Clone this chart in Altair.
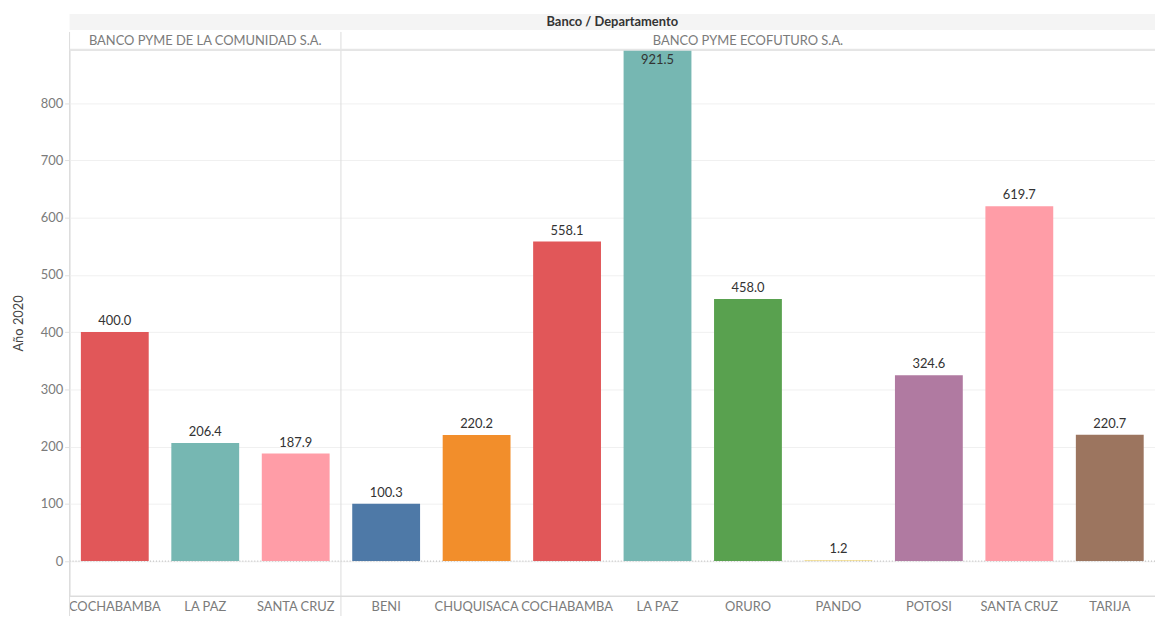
import altair as alt
import pandas as pd

# ---- data ----
banks = ["BANCO PYME DE LA COMUNIDAD S.A."] * 3 + ["BANCO PYME ECOFUTURO S.A."] * 9
depts = ["COCHABAMBA", "LA PAZ", "SANTA CRUZ",
         "BENI", "CHUQUISACA", "COCHABAMBA", "LA PAZ", "ORURO", "PANDO", "POTOSI", "SANTA CRUZ", "TARIJA"]
values = [400.0, 206.4, 187.9,
          100.3, 220.2, 558.1, 921.5, 458.0, 1.2, 324.6, 619.7, 220.7]
dept_names = ["COCHABAMBA", "LA PAZ", "SANTA CRUZ", "BENI", "CHUQUISACA", "ORURO", "PANDO", "POTOSI", "TARIJA"]
dept_colors = ["#e15759", "#76b7b2", "#ff9da7", "#4e79a7", "#f28e2b", "#59a14f", "#edc948", "#b07aa1", "#9c755f"]
bank_names = ["BANCO PYME DE LA COMUNIDAD S.A.", "BANCO PYME ECOFUTURO S.A."]
y_ticks = [0, 100, 200, 300, 400, 500, 600, 700, 800]
Y_MIN, Y_MAX = -61, 893

df = pd.DataFrame({"banco": banks, "depto": depts, "valor": values})
df["key"] = df["banco"] + "|" + df["depto"]
keys = list(df["key"])

W, H = 1093, 550
step = W / len(keys)
FONT = "Lato"
deco = pd.DataFrame({"a": [0]})

x_enc = alt.X(
    "key:N", sort=keys,
    scale=alt.Scale(paddingInner=0.25, paddingOuter=0.125),
    axis=alt.Axis(title=None, labelExpr="split(datum.label, '|')[1]", labelAngle=0,
                  domain=False, ticks=False, labelColor="#7b7b7b", labelFontSize=13,
                  labelFont=FONT, labelPadding=5, labelOverlap=False),
)


def y_enc(field):
    return alt.Y(
        field,
        scale=alt.Scale(domain=[Y_MIN, Y_MAX], nice=False, zero=False),
        axis=alt.Axis(title="Año 2020", values=y_ticks, grid=True, gridColor="#f0f0f0",
                      domain=False, tickColor="#e0e0e0", tickSize=5, labelPadding=2,
                      labelColor="#7b7b7b", labelFontSize=13, labelFont=FONT,
                      titleColor="#444444", titleFontSize=13, titleFont=FONT,
                      titleFontWeight="normal", titlePadding=15),
    )


color_enc = alt.Color("depto:N", scale=alt.Scale(domain=dept_names, range=dept_colors), legend=None)

gray_band = alt.Chart(deco).mark_rect(color="#f4f4f4").encode(
    x=alt.value(0), x2=alt.value(W), y=alt.value(-36), y2=alt.value(-20))

title_txt = alt.Chart(deco).mark_text(
    text="Banco / Departamento", font=FONT, fontSize=13, fontWeight="bold", color="#333333",
    baseline="middle").encode(x=alt.value(W / 2), y=alt.value(-28))

bank1 = alt.Chart(deco).mark_text(
    text=bank_names[0], font=FONT, fontSize=13, color="#7b7b7b", baseline="middle"
).encode(x=alt.value(1.5 * step), y=alt.value(-9))
bank2 = alt.Chart(deco).mark_text(
    text=bank_names[1], font=FONT, fontSize=13, color="#7b7b7b", baseline="middle"
).encode(x=alt.value(7.5 * step), y=alt.value(-9))

zero_line = alt.Chart(deco).mark_rule(color="#b5b5b5", strokeDash=[1, 2]).encode(
    y=alt.datum(0))

bars = alt.Chart(df).mark_bar(clip=True).encode(
    x=x_enc, y=y_enc("valor:Q"), y2=alt.datum(0), color=color_enc)

labels = alt.Chart(df).transform_filter(f"datum.valor <= {Y_MAX}").mark_text(
    baseline="bottom", dy=-4, font=FONT, fontSize=13, color="#333333"
).encode(x=x_enc, y=y_enc("valor:Q"), text=alt.Text("valor:Q", format=".1f"))

labels_clip = alt.Chart(df).transform_filter(f"datum.valor > {Y_MAX}").transform_calculate(
    yl=f"{Y_MAX}").mark_text(
    baseline="top", dy=4, font=FONT, fontSize=13, color="#333333"
).encode(x=x_enc, y=y_enc("yl:Q"), text=alt.Text("valor:Q", format=".1f"))

vline0 = alt.Chart(deco).mark_rule(color="#dcdcdc").encode(
    x=alt.value(0), y=alt.value(-18), y2=alt.value(H + 30))
vline1 = alt.Chart(deco).mark_rule(color="#dcdcdc").encode(
    x=alt.value(3 * step), y=alt.value(-18), y2=alt.value(H + 30))
top_line = alt.Chart(deco).mark_rule(color="#e6e6e6", strokeWidth=2).encode(
    x=alt.value(0), x2=alt.value(W), y=alt.value(0))
bot_line = alt.Chart(deco).mark_rule(color="#dcdcdc").encode(
    x=alt.value(0), x2=alt.value(W), y=alt.value(H))

chart = alt.layer(
    gray_band, title_txt, bank1, bank2, zero_line, bars, labels, labels_clip,
    vline0, vline1, top_line, bot_line
).properties(
    width=W, height=H,
    autosize=alt.AutoSizeParams(type="none"),
    padding={"left": 62, "top": 40, "right": 0, "bottom": 18},
).configure_view(stroke=None).configure(font=FONT)

chart.save("out.html", embed_options={"renderer": "svg", "actions": False})
